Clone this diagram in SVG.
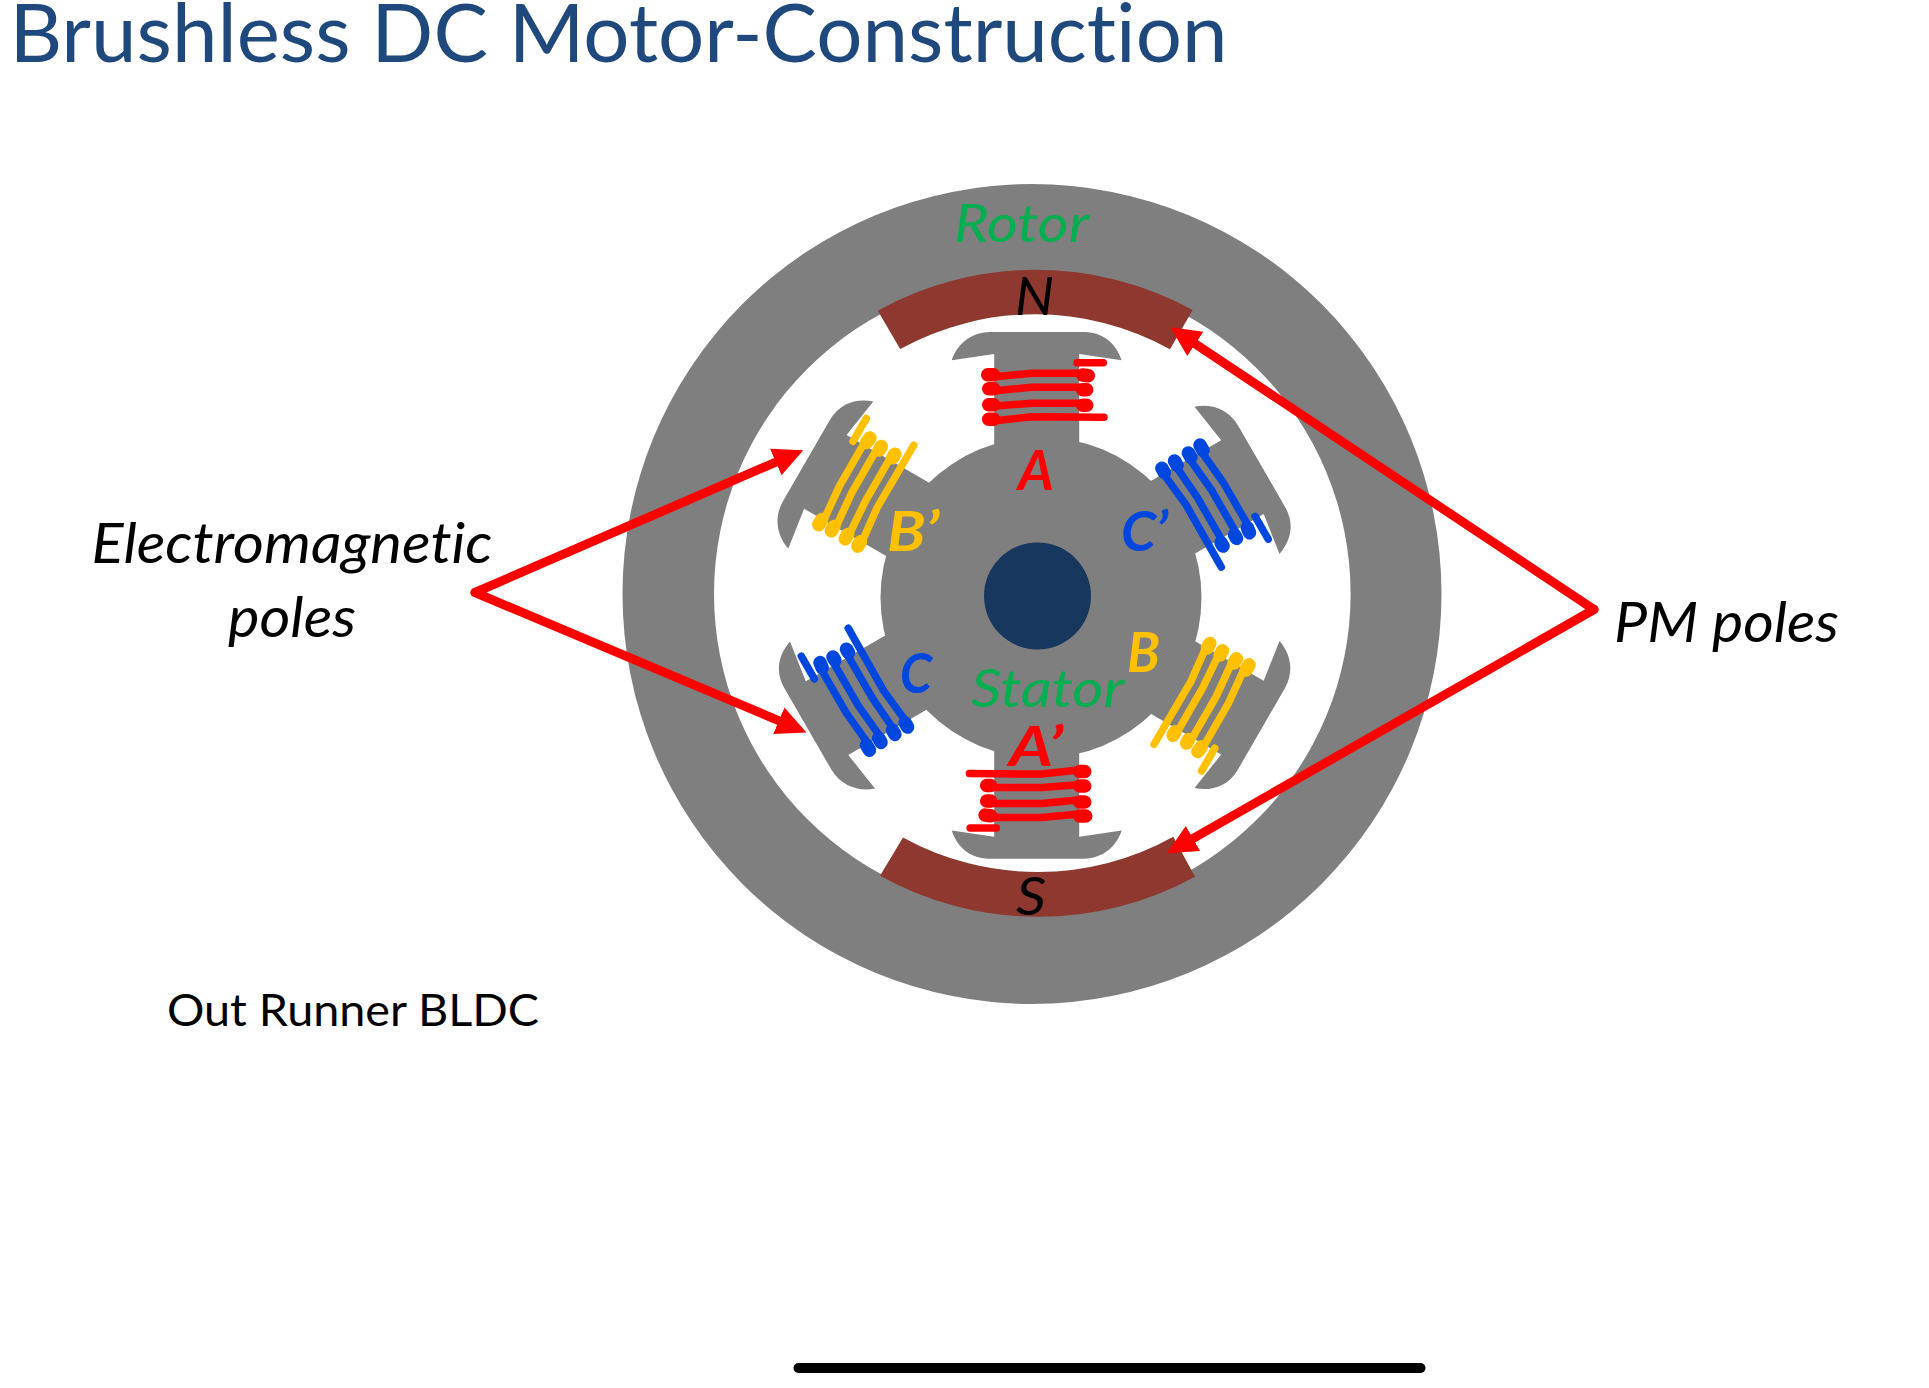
<svg xmlns="http://www.w3.org/2000/svg" xmlns:xlink="http://www.w3.org/1999/xlink" width="1929" height="1388" viewBox="0 0 1929 1388">
<style>
.g{fill:#7F7F7F}
.pole{fill:#8E3830}
text{font-family:"Lato","Open Sans","Liberation Sans",sans-serif;font-variant-ligatures:none}
.lab{font-style:italic;font-size:56px;fill:#000}
.big{font-style:italic;font-size:53px;fill:#00B050}
.w{font-style:italic;font-weight:700;font-size:55px}
.s{fill:none;stroke-width:7.5;stroke-linecap:round;stroke-linejoin:round}
.b{fill:none;stroke-width:13.5;stroke-linecap:round}
.arrow{fill:none;stroke:#FF0000;stroke-width:9;stroke-linecap:round}
</style>
<defs>
<marker id="head" markerUnits="userSpaceOnUse" markerWidth="30" markerHeight="30" refX="12" refY="13.5" viewBox="0 0 27 27" orient="auto"><path d="M0 0.5L27 13.5L0 26.5Z" fill="#FF0000"/></marker>
<path id="tooth" class="g" d="M-42.5 100L-42.5 -6.3L-85 0C-80 -15 -67 -28 -47 -28.3L48 -28.3C68 -28 80 -15 85 0L42.5 -6.3L42.5 100Z"/>
<g id="coil">
<path class="s" d="M40.3 2.4H66.6"/>
<path class="s" d="M-41.7 16.4L-5 13H48.3"/>
<path class="s" d="M-41.7 30.4L-5 27H48.3"/>
<path class="s" d="M-41.7 45.7L-5 43H48.3"/>
<path class="s" d="M-41.7 60.4L-5 56.4L67.3 57"/>
<path class="b" d="M-49 14.4H-43M46 14.7L51.6 15.4M-48 28.4H-43M46 29.4H50M-48 44.4H-43M46 45H50M-48 59H-43"/>
</g>
</defs>
<rect width="1929" height="1388" fill="#FFFFFF"/>
<text id="title" x="9.5" y="62" font-size="82" fill="#1F497D" textLength="1218" lengthAdjust="spacingAndGlyphs">Brushless DC Motor-Construction</text>
<g id="rotor">
<path class="g" fill-rule="evenodd" d="M622.5 594A409.5 410 0 1 1 1441.5 594A409.5 410 0 1 1 622.5 594ZM714 594A318.3 318.3 0 1 0 1350.6 594A318.3 318.3 0 1 0 714 594Z"/>
<text class="big" x="954" y="242" textLength="135" lengthAdjust="spacingAndGlyphs">Rotor</text>
</g>
<g id="pole-n">
<path class="pole" d="M877.8 310.8A326 326 0 0 1 1192.7 310L1170 349.3A279 279 0 0 0 900.2 349Z"/>
<text class="lab" x="1015" y="315" style="font-size:52px" textLength="39" lengthAdjust="spacingAndGlyphs">N</text>
</g>
<g id="pole-s">
<path class="pole" d="M880 875.8A326 326 0 0 0 1195 876.7L1173.3 836.7A279 279 0 0 1 903 837.4Z"/>
<text class="lab" x="1016" y="915" style="font-size:52px" textLength="30" lengthAdjust="spacingAndGlyphs">S</text>
</g>
<g id="stator">
<use xlink:href="#tooth" href="#tooth" transform="translate(1036.7 360.3)"/>
<use xlink:href="#tooth" href="#tooth" transform="translate(830.8 475) rotate(-60)"/>
<use xlink:href="#tooth" href="#tooth" transform="translate(1237 480.3) rotate(60)"/>
<use xlink:href="#tooth" href="#tooth" transform="translate(832.5 715) rotate(-120)"/>
<use xlink:href="#tooth" href="#tooth" transform="translate(1237 714.5) rotate(120)"/>
<use xlink:href="#tooth" href="#tooth" transform="translate(1036.7 830.5) rotate(180)"/>
<circle class="g" cx="1041" cy="597.6" r="160.5"/>
<text class="big" x="971" y="707" textLength="153" lengthAdjust="spacingAndGlyphs">Stator</text>
</g>
<g id="shaft"><circle cx="1037.5" cy="596" r="53.5" fill="#17375E"/></g>
<g id="coil-a"><use xlink:href="#coil" href="#coil" stroke="#FF0000" transform="translate(1036.7 360.3)"/><text class="w" x="1018" y="490" fill="#FF0000" textLength="36" lengthAdjust="spacingAndGlyphs">A</text></g>
<g id="coil-a-prime"><use xlink:href="#coil" href="#coil" stroke="#FF0000" transform="translate(1036.7 830.5) rotate(180)"/><text class="w" x="1009" y="766" fill="#FF0000" textLength="54" lengthAdjust="spacingAndGlyphs">A’</text></g>
<g id="coil-b-prime"><use xlink:href="#coil" href="#coil" stroke="#FFC000" transform="translate(830.8 475) rotate(-60)"/><text class="w" x="887" y="551" fill="#FFC000" textLength="52" lengthAdjust="spacingAndGlyphs">B’</text></g>
<g id="coil-b"><use xlink:href="#coil" href="#coil" stroke="#FFC000" transform="translate(1237 714.5) rotate(120)"/><text class="w" x="1127" y="672" fill="#FFC000" textLength="33" lengthAdjust="spacingAndGlyphs">B</text></g>
<g id="coil-c-prime"><use xlink:href="#coil" href="#coil" stroke="#0047E0" transform="translate(1237 480.3) rotate(60)"/><text class="w" x="1121" y="551" fill="#0047E0" textLength="47" lengthAdjust="spacingAndGlyphs">C’</text></g>
<g id="coil-c"><use xlink:href="#coil" href="#coil" stroke="#0047E0" transform="translate(832.5 715) rotate(-120)"/><text class="w" x="900" y="693" fill="#0047E0" textLength="32" lengthAdjust="spacingAndGlyphs">C</text></g>
<g id="connectors">
<line class="arrow" x1="475" y1="592.5" x2="788" y2="456.8" marker-end="url(#head)"/>
<line class="arrow" x1="475" y1="592.5" x2="791.1" y2="725.9" marker-end="url(#head)"/>
<line class="arrow" x1="1594" y1="609.5" x2="1184.2" y2="336.5" marker-end="url(#head)"/>
<line class="arrow" x1="1594" y1="609.5" x2="1181.4" y2="845.1" marker-end="url(#head)"/>
</g>
<g id="em-poles">
<text class="lab" x="91.5" y="563" textLength="401" lengthAdjust="spacingAndGlyphs">Electromagnetic</text>
<text class="lab" x="228" y="637" textLength="128" lengthAdjust="spacingAndGlyphs">poles</text>
</g>
<g id="pm-poles"><text class="lab" x="1614" y="642" textLength="225" lengthAdjust="spacingAndGlyphs">PM poles</text></g>
<text id="caption" x="167" y="1026" font-size="44" fill="#000" textLength="372" lengthAdjust="spacingAndGlyphs">Out Runner BLDC</text>
<rect id="bar" x="793.5" y="1363" width="632" height="10" rx="5" fill="#000"/>
</svg>
